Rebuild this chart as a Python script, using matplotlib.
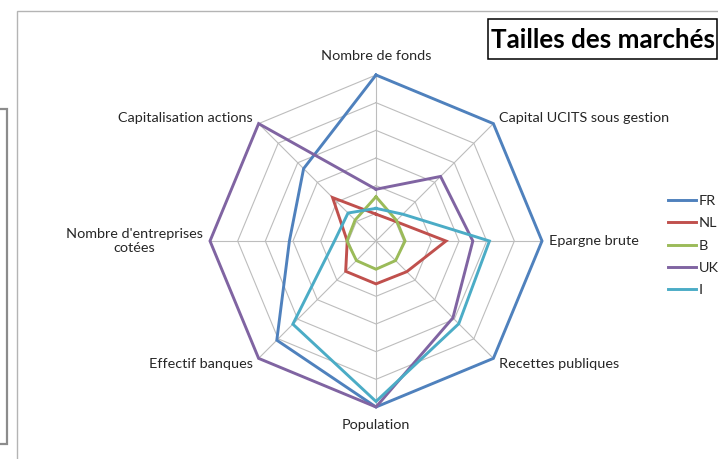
import numpy as np
import matplotlib
matplotlib.use("Agg")
import matplotlib.pyplot as plt
from matplotlib.patches import Rectangle

plt.rcParams['font.family'] = ['Lato', 'DejaVu Sans']

categories = ["Nombre de fonds", "Capital UCITS sous gestion", "Epargne brute",
              "Recettes publiques", "Population", "Effectif banques",
              "Nombre d'entreprises\ncotées", "Capitalisation actions"]
series_names = ["FR", "NL", "B", "UK", "I"]
FR = [6.0, 6.0, 6.0, 6.0, 6.0, 5.07, 3.13, 3.7]
NL = [0.97, 1.0, 2.53, 1.57, 1.55, 1.55, 1.04, 2.22]
B = [1.6, 1.05, 1.05, 1.0, 1.02, 1.0, 1.05, 1.07]
UK = [1.87, 3.3, 3.5, 3.93, 6.0, 6.0, 6.0, 6.0]
I = [1.18, 1.37, 4.1, 4.23, 5.8, 4.25, 1.5, 1.43]
title = "Tailles des marchés"

colors = ["#4F81BD", "#C0504D", "#9BBB59", "#8064A2", "#4BACC6"]
data = [FR, NL, B, UK, I]

W, H = 718, 459
fig = plt.figure(figsize=(W / 100, H / 100), dpi=100)

# chart frame and left box
fig.add_artist(Rectangle((16.5 / W, -0.05), 1.1, (H - 11) / H + 0.05, transform=fig.transFigure,
                         fill=False, edgecolor="#b4b4b4", linewidth=1.0))
fig.add_artist(Rectangle((-0.02, 1 - 444 / H), 7 / W + 0.02, (444 - 109) / H, transform=fig.transFigure,
                         fill=False, edgecolor="#8c8c8c", linewidth=1.6))

cx, cy, R = 376, 241, 166
ax = fig.add_axes([(cx - R) / W, (H - cy - R) / H, 2 * R / W, 2 * R / H], projection='polar')
ax.set_theta_zero_location('N')
ax.set_theta_direction(-1)
ax.set_ylim(0, 6)
ax.grid(False)
ax.spines['polar'].set_visible(False)
ax.set_xticks([])
ax.set_yticks([])
ax.patch.set_alpha(0)

n = len(categories)
angles = np.arange(n) * 2 * np.pi / n
closed = np.append(angles, angles[0])

grid_c = "#bdbdbd"
for r in range(1, 7):
    ax.plot(closed, [r] * (n + 1), color=grid_c, lw=0.8, clip_on=False, zorder=1)
for a in angles:
    ax.plot([a, a], [0, 6], color=grid_c, lw=0.8, clip_on=False, zorder=1)

for name, vals, c in zip(series_names, data, colors):
    ax.plot(closed, list(vals) + [vals[0]], color=c, lw=2.1, label=name,
            clip_on=False, zorder=3, solid_joinstyle='miter')

offsets = [(0, 19, 'center'), (6, 6, 'left'), (7, 0, 'left'), (6, -6, 'left'),
           (0, -18, 'center'), (-6, -6, 'right'), (-7, 0, 'right'), (-6, 6, 'right')]
for a, lab, (dx, dy, ha) in zip(angles, categories, offsets):
    ax.annotate(lab, xy=(a, 6), xytext=(dx, dy), textcoords='offset pixels',
                ha=ha, va='center', fontsize=10.4, color="#262626",
                multialignment='center', annotation_clip=False)

leg = fig.legend(loc='upper left', bbox_to_anchor=(668 / W, 1 - 195 / H),
                 frameon=False, fontsize=10.4, handlelength=1.95, handletextpad=0.2,
                 labelspacing=0.7, borderpad=0, borderaxespad=0)
for t in leg.get_texts():
    t.set_color("#262626")

# title with box
fig.add_artist(Rectangle((487.5 / W, 1 - 58.5 / H), (717 - 487.5) / W, 39.5 / H,
                         transform=fig.transFigure, facecolor='white', edgecolor='black',
                         linewidth=1.1, zorder=5))
fig.text(491 / W, 1 - 40 / H, title, ha='left', va='center', fontsize=18.7,
         fontweight='bold', color='black', zorder=6)

fig.savefig("out.png", dpi=100)
